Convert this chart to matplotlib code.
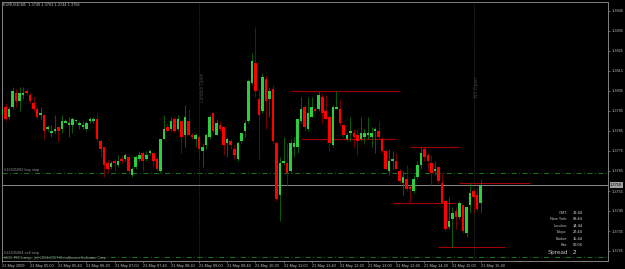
import numpy as np
import matplotlib
matplotlib.use("Agg")
import matplotlib.pyplot as plt
from matplotlib.transforms import blended_transform_factory

plt.rcParams['font.family'] = ['Liberation Sans', 'DejaVu Sans']

# EURUSD M5 bars, 21 May 2009 04:20 .. 15:40 (broker time)
opens = [1.3793, 1.3797, 1.3792, 1.3797, 1.3804, 1.3800, 1.3803, 1.3805, 1.3803, 1.3799,
         1.3796, 1.3793, 1.3793, 1.3786, 1.3784, 1.3785, 1.3787, 1.3786, 1.3789, 1.3788,
         1.3788, 1.3790, 1.3788, 1.3787, 1.3786, 1.3790, 1.3790, 1.3791, 1.3780, 1.3777,
         1.3769, 1.3767, 1.3770, 1.3768, 1.3771, 1.3771, 1.3772, 1.3763, 1.3767, 1.3771,
         1.3774, 1.3771, 1.3774, 1.3774, 1.3771, 1.3765, 1.3781, 1.3787, 1.3786, 1.3791,
         1.3786, 1.3790, 1.3783, 1.3790, 1.3783, 1.3781, 1.3782, 1.3775, 1.3778, 1.3782,
         1.3794, 1.3783, 1.3788, 1.3787, 1.3779, 1.3780, 1.3776, 1.3771, 1.3780, 1.3785,
         1.3790, 1.3809, 1.3819, 1.3801, 1.3795, 1.3811, 1.3801, 1.3806, 1.3779, 1.3753,
         1.3769, 1.3769, 1.3765, 1.3777, 1.3777, 1.3790, 1.3797, 1.3786, 1.3792, 1.3796,
         1.3796, 1.3802, 1.3795, 1.3792, 1.3778, 1.3796, 1.3796, 1.3788, 1.3781, 1.3784,
         1.3784, 1.3783, 1.3781, 1.3782, 1.3783, 1.3782, 1.3785, 1.3785, 1.3781, 1.3775,
         1.3765, 1.3770, 1.3770, 1.3765, 1.3759, 1.3761, 1.3757, 1.3755, 1.3762, 1.3768,
         1.3776, 1.3773, 1.3769, 1.3765, 1.3767, 1.3759, 1.3750, 1.3737, 1.3741, 1.3745,
         1.3742, 1.3748, 1.3734, 1.3748, 1.3755, 1.3753, 1.3749]
highs = [1.3798, 1.3799, 1.3797, 1.3807, 1.3806, 1.3807, 1.3807, 1.3806, 1.3804, 1.3802,
         1.3797, 1.3797, 1.3793, 1.3788, 1.3788, 1.3793, 1.3787, 1.3793, 1.3791, 1.3792,
         1.3792, 1.3791, 1.3790, 1.3790, 1.3790, 1.3792, 1.3792, 1.3794, 1.3781, 1.3777,
         1.3771, 1.3770, 1.3771, 1.3773, 1.3773, 1.3774, 1.3773, 1.3767, 1.3773, 1.3775,
         1.3775, 1.3775, 1.3776, 1.3774, 1.3772, 1.3781, 1.3793, 1.3789, 1.3792, 1.3792,
         1.3793, 1.3790, 1.3798, 1.3796, 1.3784, 1.3784, 1.3783, 1.3779, 1.3784, 1.3793,
         1.3794, 1.3791, 1.3790, 1.3787, 1.3782, 1.3781, 1.3778, 1.3780, 1.3784, 1.3791,
         1.3811, 1.3824, 1.3837, 1.3806, 1.3814, 1.3813, 1.3807, 1.3808, 1.3780, 1.3772,
         1.3782, 1.3779, 1.3781, 1.3782, 1.3791, 1.3802, 1.3798, 1.3802, 1.3802, 1.3797,
         1.3805, 1.3804, 1.3803, 1.3793, 1.3798, 1.3805, 1.3801, 1.3788, 1.3784, 1.3792,
         1.3786, 1.3786, 1.3792, 1.3786, 1.3792, 1.3787, 1.3787, 1.3790, 1.3782, 1.3775,
         1.3776, 1.3775, 1.3774, 1.3766, 1.3765, 1.3768, 1.3758, 1.3763, 1.3770, 1.3777,
         1.3777, 1.3774, 1.3773, 1.3770, 1.3767, 1.3764, 1.3751, 1.3752, 1.3747, 1.3747,
         1.3750, 1.3748, 1.3747, 1.3759, 1.3756, 1.3757, 1.3761]
lows = [1.3791, 1.3790, 1.3791, 1.3796, 1.3797, 1.3795, 1.3801, 1.3803, 1.3799, 1.3795,
        1.3791, 1.3791, 1.3781, 1.3785, 1.3782, 1.3784, 1.3780, 1.3784, 1.3789, 1.3782,
        1.3784, 1.3789, 1.3786, 1.3786, 1.3785, 1.3789, 1.3789, 1.3780, 1.3772, 1.3762,
        1.3764, 1.3766, 1.3765, 1.3767, 1.3769, 1.3770, 1.3764, 1.3762, 1.3766, 1.3770,
        1.3765, 1.3770, 1.3773, 1.3767, 1.3765, 1.3764, 1.3781, 1.3785, 1.3785, 1.3784,
        1.3785, 1.3774, 1.3777, 1.3783, 1.3781, 1.3777, 1.3771, 1.3767, 1.3776, 1.3781,
        1.3784, 1.3783, 1.3785, 1.3773, 1.3772, 1.3776, 1.3771, 1.3770, 1.3779, 1.3782,
        1.3789, 1.3808, 1.3802, 1.3771, 1.3794, 1.3786, 1.3792, 1.3779, 1.3750, 1.3740,
        1.3768, 1.3758, 1.3764, 1.3772, 1.3774, 1.3789, 1.3785, 1.3785, 1.3792, 1.3794,
        1.3795, 1.3789, 1.3791, 1.3775, 1.3777, 1.3796, 1.3788, 1.3782, 1.3780, 1.3780,
        1.3777, 1.3773, 1.3780, 1.3779, 1.3781, 1.3777, 1.3774, 1.3781, 1.3774, 1.3766,
        1.3763, 1.3766, 1.3766, 1.3759, 1.3753, 1.3755, 1.3749, 1.3754, 1.3761, 1.3766,
        1.3770, 1.3765, 1.3758, 1.3763, 1.3759, 1.3749, 1.3735, 1.3736, 1.3727, 1.3736,
        1.3741, 1.3734, 1.3732, 1.3744, 1.3744, 1.3745, 1.3744]
closes = [1.3796, 1.3791, 1.3796, 1.3805, 1.3800, 1.3804, 1.3804, 1.3804, 1.3800, 1.3796,
          1.3792, 1.3794, 1.3785, 1.3787, 1.3785, 1.3786, 1.3785, 1.3790, 1.3790, 1.3789,
          1.3791, 1.3790, 1.3789, 1.3788, 1.3789, 1.3791, 1.3791, 1.3781, 1.3776, 1.3768,
          1.3766, 1.3769, 1.3769, 1.3770, 1.3770, 1.3773, 1.3765, 1.3766, 1.3772, 1.3773,
          1.3770, 1.3773, 1.3775, 1.3770, 1.3766, 1.3781, 1.3786, 1.3785, 1.3790, 1.3785,
          1.3791, 1.3782, 1.3792, 1.3783, 1.3782, 1.3783, 1.3776, 1.3777, 1.3783, 1.3792,
          1.3785, 1.3789, 1.3786, 1.3778, 1.3781, 1.3778, 1.3773, 1.3779, 1.3784, 1.3789,
          1.3810, 1.3820, 1.3805, 1.3793, 1.3812, 1.3800, 1.3805, 1.3780, 1.3751, 1.3769,
          1.3770, 1.3764, 1.3779, 1.3779, 1.3791, 1.3796, 1.3787, 1.3794, 1.3797, 1.3795,
          1.3803, 1.3794, 1.3791, 1.3779, 1.3797, 1.3797, 1.3789, 1.3783, 1.3783, 1.3785,
          1.3782, 1.3780, 1.3784, 1.3784, 1.3784, 1.3784, 1.3786, 1.3782, 1.3775, 1.3766,
          1.3770, 1.3771, 1.3766, 1.3760, 1.3762, 1.3756, 1.3756, 1.3761, 1.3768, 1.3774,
          1.3772, 1.3770, 1.3764, 1.3766, 1.3760, 1.3749, 1.3736, 1.3740, 1.3744, 1.3742,
          1.3749, 1.3735, 1.3747, 1.3754, 1.3752, 1.3746, 1.3758]

# time axis labels, one every 8 bars
time_labels = ["21 May 2009", "21 May 05:00", "21 May 05:40", "21 May 06:20", "21 May 07:00",
               "21 May 07:40", "21 May 08:20", "21 May 09:00", "21 May 09:40", "21 May 10:20",
               "21 May 11:00", "21 May 11:40", "21 May 12:20", "21 May 13:00", "21 May 13:40",
               "21 May 14:20", "21 May 15:00", "21 May 15:40"]
price_ticks = [1.3845, 1.3835, 1.3825, 1.3815, 1.3805, 1.3795, 1.3785,
               1.3775, 1.3765, 1.3755, 1.3745, 1.3735, 1.3725]

# horizontal range lines (price, first bar, last bar)
level_prices = [1.3805, 1.3781, 1.3777, 1.3749, 1.3759, 1.3727]
level_start = [82, 85, 116, 111, 130, 124]
level_end = [113, 112, 130, 129, 150, 143]

# session opens (bar index)
session_names = ["London Open", "NY Open"]
session_bars = [56, 134]

bid = 1.3758
buy_stop = 1.3764
sell_stop = 1.3722

clock_names = ["GMT:", "New York:", "London:", "Tokyo:", "Broker:", "Bar:"]
clock_times = ["13:44", "09:44", "14:44", "22:44", "15:44", "00:04"]
spread = "2"

# colors
BG = "#000000"
BULL = "#2ecc40"
BULL_WICK = "#0a6b0a"
BEAR = "#ff0000"
BEAR_WICK = "#8b0000"
GRID = "#808080"
TXT = "#c0c0c0"
FS = 2.8

fig = plt.figure(figsize=(6.25, 2.69), dpi=100, facecolor=BG)
ax = fig.add_axes([2 / 625, 8 / 269, 606 / 625, 259 / 269], facecolor=BG)

o = np.array(opens)
h = np.array(highs)
l = np.array(lows)
c = np.array(closes)
x = np.arange(len(o))
up = c >= o

# wicks
ax.vlines(x[up], l[up], h[up], color=BULL_WICK, linewidth=0.6, zorder=2)
ax.vlines(x[~up], l[~up], h[~up], color=BEAR_WICK, linewidth=0.6, zorder=2)
# bodies
body_lo = np.minimum(o, c)
body_h = np.maximum(np.abs(c - o), 0.00004)
ax.bar(x[up], body_h[up], bottom=body_lo[up], width=0.72, color=BULL, linewidth=0, zorder=3)
ax.bar(x[~up], body_h[~up], bottom=body_lo[~up], width=0.72, color=BEAR, linewidth=0, zorder=3)

# range lines
for p, s, e in zip(level_prices, level_start, level_end):
    ax.hlines(p, s, e, color="#a00000", linewidth=0.8, zorder=1)

# session open markers
for name, b in zip(session_names, session_bars):
    ax.axvline(b + 0.1, color="#3a3a3a", linewidth=0.6, linestyle=(0, (1, 1.5)), zorder=0)
    ax.text(b + 0.9, 1.3807, name, rotation=90, fontsize=3.4, color="#444444",
            ha="center", va="center")

# bid line and pending orders
ax.axhline(bid, color="#8a8a8a", linewidth=0.7, zorder=1)
ax.axhline(buy_stop, color="#1f8a1f", linewidth=0.6, linestyle=(0, (6, 3, 1, 3)), zorder=1)
ax.axhline(sell_stop, color="#1f8a1f", linewidth=0.6, linestyle=(0, (6, 3, 1, 3)), zorder=1)
ax.text(0.7, buy_stop + 0.00005, "#12435082 buy stop", fontsize=FS, color="#909090", va="bottom")
ax.text(0.7, sell_stop + 0.00012, "#12435084 sell stop", fontsize=FS, color="#909090", va="bottom")
ax.text(0.7, sell_stop - 0.00005, "#586 PROrange, (c) 2001-2007 MetaQuotes Software Corp.",
        fontsize=FS, color="#909090", va="center")

# clock panel
tr = ax.transAxes
y0 = 0.1865
for i, (n, t) in enumerate(zip(clock_names, clock_times)):
    ax.text(0.9335, y0 - i * 0.0253, n, transform=tr, fontsize=FS, color=TXT, ha="right", va="center")
    ax.text(0.9418, y0 - i * 0.0253, t, transform=tr, fontsize=FS, color="#e0e0e0", ha="left", va="center")
ax.text(0.9335, y0 - 6 * 0.0253 - 0.002, "Spread", transform=tr, fontsize=4.6, color=TXT, ha="right", va="center")
ax.text(0.9418, y0 - 6 * 0.0253 - 0.002, spread, transform=tr, fontsize=4.6, color="#e0e0e0", ha="left", va="center")

# axes
ax.set_xlim(0.1, 172.2)
ax.set_ylim(1.3720, 1.38495)
for sp in ax.spines.values():
    sp.set_color(GRID)
    sp.set_linewidth(0.7)

ax.yaxis.tick_right()
ax.set_yticks(price_ticks)
ax.set_yticklabels(["%.4f" % p for p in price_ticks])
ax.tick_params(axis="y", colors=GRID, labelcolor=TXT, labelsize=FS, length=1.5, width=0.5, pad=1)
ax.set_xticks(np.arange(0, len(time_labels) * 8, 8))
ax.set_xticklabels(time_labels, ha="left")
ax.tick_params(axis="x", colors=GRID, labelcolor=TXT, labelsize=FS, length=1.5, width=0.5, pad=0.6)

# current price box
ax.annotate("%.4f" % bid, xy=(1.0, bid), xycoords=blended_transform_factory(ax.transAxes, ax.transData),
            xytext=(1.5, 0), textcoords="offset points", fontsize=FS, color="#000000",
            va="center", ha="left", bbox=dict(boxstyle="square,pad=0.15", fc="#a0a0a0", ec="none"))

fig.text(3 / 625, 1 - 5 / 269, "EURUSD,M5  1.3749 1.3763 1.3744 1.3758", fontsize=FS, color=TXT, va="center")

fig.savefig("out.png", dpi=100, facecolor=BG)
